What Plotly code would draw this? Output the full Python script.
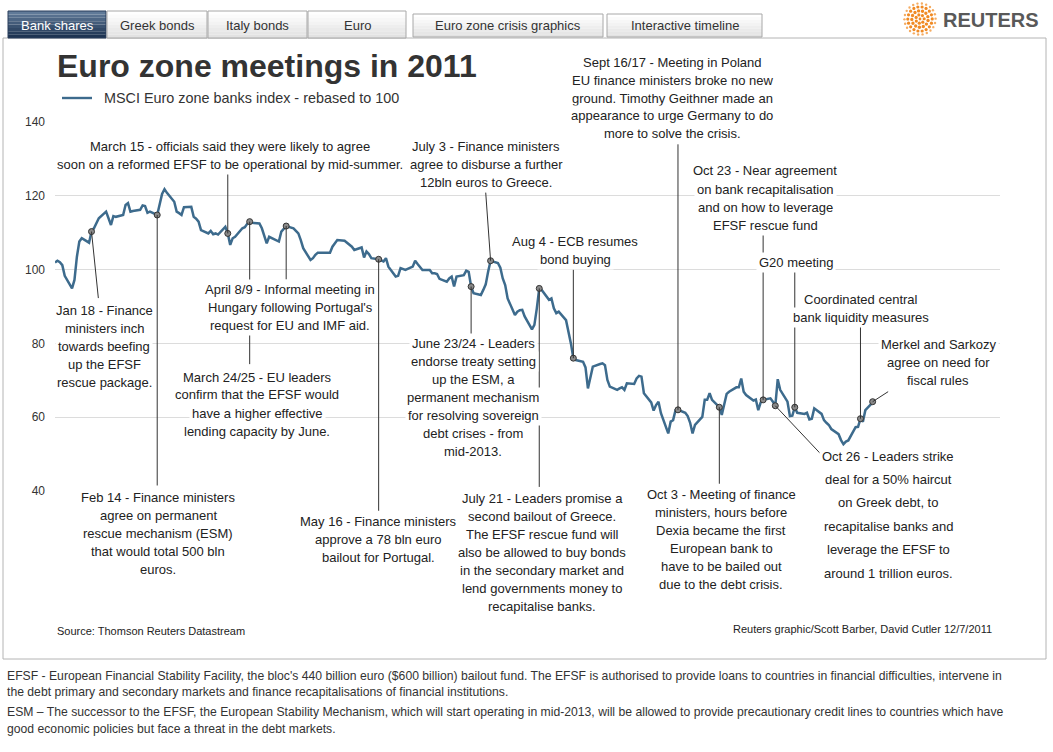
import math
import pandas as pd
import plotly.graph_objects as go

# ---------------- data (MSCI Euro zone banks index, rebased to 100) ----------------
jan_vals = [101.9, 102.4, 102.0, 101.2, 98.3, 94.9, 97.2, 103.5, 107.6, 108.5, 107.3,
            110.3, 111.2, 112.5, 113.9, 115.7, 113.9, 112.1, 114.5, 114.3, 114.8]
feb_vals = [117.5, 118.0, 115.7, 115.9, 116.2, 117.4, 117.2, 115.4, 115.7, 114.8,
            117.5, 120.5, 121.8, 120.8, 118.4, 115.7, 115.3, 114.8, 116.9, 117.0]
mar_vals = [114.3, 113.8, 113.0, 110.7, 109.8, 110.5, 109.6, 109.8, 109.5, 111.6, 109.8,
            106.7, 108.5, 108.9, 111.2, 111.5, 112.4, 113.0, 112.7, 112.5, 111.2, 109.4, 107.1]
apr_vals = [108.9, 108.0, 107.6, 110.3, 111.0, 111.8, 111.2, 110.5, 109.8, 108.0,
            105.8, 102.6, 103.1, 104.0, 104.6, 104.6, 104.6, 106.2, 107.0, 108.0]
may_vals = [107.8, 107.3, 106.8, 106.2, 105.3, 106.0, 103.3, 104.9, 104.2, 103.1, 102.8,
            102.5, 102.2, 103.1, 100.8, 98.1, 98.3, 100.4, 100.2, 99.9, 100.8, 102.4]
jun_vals = [101.5, 100.8, 99.9, 99.9, 99.0, 99.0, 98.8, 97.5, 96.7, 97.6, 98.1,
            95.4, 98.1, 98.5, 99.7, 99.4, 95.4, 93.6, 93.1, 94.5, 96.0, 99.5]
jul_vals = [102.4, 101.8, 100.5, 97.6, 95.8, 92.2, 87.7, 88.6, 89.0, 89.1, 87.3,
            83.8, 85.0, 89.5, 94.9, 94.5, 91.8, 92.2, 89.5, 88.2, 88.6]
aug_vals = [86.3, 83.2, 80.0, 76.0, 75.5, 75.0, 73.5, 67.8, 71.0, 73.7, 74.4, 74.6,
            74.1, 70.1, 68.3, 67.4, 67.8, 68.1, 67.4, 69.2, 69.0, 70.5, 71.2]
sep_vals = [71.0, 66.5, 64.0, 61.8, 63.3, 64.2, 61.1, 55.6, 58.8, 59.2, 61.9,
            62.0, 61.2, 60.3, 58.5, 55.6, 57.9, 60.1, 64.7, 64.7, 66.5, 64.7]
oct_vals = [62.7, 60.6, 63.3, 66.3, 66.9, 68.1, 68.1, 70.5, 66.9, 66.0, 64.5,
            64.8, 61.9, 64.0, 64.7, 65.1, 64.2, 63.1, 70.3, 67.4, 64.2]
nov_vals = [60.3, 60.4, 62.7, 61.2, 60.9, 61.2, 59.4, 59.6, 62.4, 60.9, 59.2,
            58.5, 57.9, 56.8, 55.4, 53.8, 52.7, 53.4, 53.7, 57.3, 57.4, 59.6]
dec_vals = [58.8, 61.9, 64.2, 64.7]

HOLIDAYS = ["2011-04-22"]
MONTH_SPANS = [("2011-01-01", "2011-01-31"), ("2011-02-01", "2011-02-28"),
               ("2011-03-01", "2011-03-31"), ("2011-04-01", "2011-04-30"),
               ("2011-05-01", "2011-05-31"), ("2011-06-01", "2011-06-30"),
               ("2011-07-01", "2011-07-31"), ("2011-08-01", "2011-08-31"),
               ("2011-09-01", "2011-09-30"), ("2011-10-01", "2011-10-31"),
               ("2011-11-01", "2011-11-30"), ("2011-12-01", "2011-12-06")]
MONTH_VALUES = [jan_vals, feb_vals, mar_vals, apr_vals, may_vals, jun_vals,
                jul_vals, aug_vals, sep_vals, oct_vals, nov_vals, dec_vals]

event_dates = ["2011-01-18", "2011-02-14", "2011-03-15", "2011-03-24", "2011-04-08",
               "2011-05-16", "2011-06-23", "2011-07-01", "2011-07-21", "2011-08-04",
               "2011-09-16", "2011-10-03", "2011-10-21", "2011-10-26", "2011-11-03",
               "2011-11-30", "2011-12-05"]

y_ticks = [40, 60, 80, 100, 120, 140]

TITLE = "Euro zone meetings in 2011"
LEGEND_TEXT = "MSCI Euro zone banks index - rebased to 100"
SOURCE = "Source: Thomson Reuters Datastream"
CREDIT = "Reuters graphic/Scott Barber, David Cutler 12/7/2011"
FOOTNOTES = [
    "EFSF - European Financial Stability Facility, the bloc's 440 billion euro ($600 billion) bailout fund. The EFSF is authorised to provide loans to countries in financial difficulties, intervene in",
    "the debt primary and secondary markets and finance recapitalisations of financial institutions.",
    "ESM \u2013 The successor to the EFSF, the European Stability Mechanism, which will start operating in mid-2013, will be allowed to provide precautionary credit lines to countries which have",
    "good economic policies but face a threat in the debt markets.",
]
TABS = ["Bank shares", "Greek bonds", "Italy bonds", "Euro"]
BUTTONS = ["Euro zone crisis graphics", "Interactive timeline"]

# event label texts
EVENT_TEXTS = {
    "jan18": ["Jan 18 - Finance", "ministers inch", "towards beefing", "up the EFSF", "rescue package."],
    "feb14": ["Feb 14 - Finance ministers", "agree on permanent", "rescue mechanism (ESM)",
              "that would total 500 bln", "euros."],
    "mar15": ["March 15 - officials said they were likely to agree",
              "soon on a reformed EFSF to be operational by mid-summer."],
    "mar24": ["March 24/25 - EU leaders", "confirm that the EFSF would",
              "have a higher effective", "lending capacity by June."],
    "apr8": ["April 8/9 - Informal meeting in", "Hungary following Portugal's",
             "request for EU and IMF aid."],
    "may16": ["May 16 - Finance ministers", "approve a 78 bln euro", "bailout for Portugal."],
    "jun23": ["June 23/24 - Leaders", "endorse treaty setting", "up the ESM, a",
              "permanent mechanism", "for resolving sovereign", "debt crises - from", "mid-2013."],
    "jul3": ["July 3 - Finance ministers", "agree to disburse a further", "12bln euros to Greece."],
    "jul21": ["July 21 - Leaders promise a", "second bailout of Greece.", "The EFSF rescue fund will",
              "also be allowed to buy bonds", "in the secondary market and",
              "lend governments money to", "recapitalise banks."],
    "aug4": ["Aug 4 - ECB resumes", "bond buying"],
    "sep16": ["Sept 16/17 - Meeting in Poland", "EU finance ministers broke no new",
              "ground. Timothy Geithner made an", "appearance to urge Germany to do",
              "more to solve the crisis."],
    "oct3": ["Oct 3 - Meeting of finance", "ministers, hours before", "Dexia became the first",
             "European bank to", "have to be bailed out", "due to the debt crisis."],
    "oct23": ["Oct 23 - Near agreement", "on bank recapitalisation", "and on how to leverage",
              "EFSF rescue fund"],
    "oct26": ["Oct 26 - Leaders strike", "deal for a 50% haircut", "on Greek debt, to",
              "recapitalise banks and", "leverage the EFSF to", "around 1 trillion euros."],
    "g20": ["G20 meeting"],
    "coord": ["Coordinated central", "bank liquidity measures"],
    "merkel": ["Merkel and Sarkozy", "agree on need for", "fiscal rules"],
}

# ---------------- build series ----------------
dates, values = [], []
for (s, e), vals in zip(MONTH_SPANS, MONTH_VALUES):
    d = pd.bdate_range(s, e, freq="C", holidays=HOLIDAYS)
    if len(d) != len(vals):
        raise ValueError(f"{s}: {len(d)} days vs {len(vals)} values")
    dates += [x.strftime("%Y-%m-%d") for x in d]
    values += vals
series = dict(zip(dates, values))
event_vals = [series[d] for d in event_dates]

# ---------------- layout helpers ----------------
FW, FH = 1053, 752
L, T, R, B = 55, 122, 1000, 491
PW, PH = R - L, B - T


def px(x):
    return (x - L) / PW


def py(y):
    return (B - y) / PH


FONT = "Arial, Liberation Sans, sans-serif"
LINE_COLOR = "#3d6b8d"
TXT = "#222222"

fig = go.Figure()
fig.add_trace(go.Scatter(x=dates, y=values, mode="lines",
                         line=dict(color=LINE_COLOR, width=2.5),
                         hoverinfo="skip", showlegend=False))
fig.add_trace(go.Scatter(x=event_dates, y=event_vals, mode="markers",
                         marker=dict(size=6, color="#8a8a8a", line=dict(color="#333333", width=1)),
                         hoverinfo="skip", showlegend=False))

shapes = []
annotations = []

# connector lines (tail offsets in pixels from the marked point)
arrow_offsets = [(7, 68), (0, 272), (0, -62), (0, 144), (0, 55), (0, 253), (0, 49),
                 (-5, -70), (0, 200), (0, -90), (0, -267), (0, 78), (0, -167),
                 (49, 52), (0, -137), (0, -94), (17, -11)]
for d, v, (ax, ay) in zip(event_dates, event_vals, arrow_offsets):
    annotations.append(dict(x=d, y=v, xref="x", yref="y", text="", showarrow=True,
                            arrowhead=0, arrowwidth=1, arrowcolor="#333333",
                            ax=ax, ay=ay, standoff=0, startstandoff=0))

# text blocks: (key, centre x px, first line centre y px, line spacing px)
text_pos = [("jul21", 542, 498, 18), ("may16", 378, 521, 18), ("jan18", 104, 310, 18),
            ("feb14", 158, 497, 18), ("mar15", 230, 146, 18), ("mar24", 257, 377, 18),
            ("apr8", 290, 289, 18), ("jun23", 473, 343, 18), ("jul3", 486, 146, 18),
            ("aug4", 575, 241, 18), ("sep16", 672, 62, 18), ("oct3", 721, 494, 18),
            ("oct23", 765, 171, 18), ("oct26", 888, 456, 23.4), ("g20", 796, 262, 18),
            ("coord", 861, 299, 18), ("merkel", 938, 344, 18)]
for key, cx, first, lh in text_pos:
    for i, line in enumerate(EVENT_TEXTS[key]):
        annotations.append(dict(x=px(cx), y=py(first + lh * i), xref="paper", yref="paper",
                                text=line, showarrow=False, xanchor="center", yanchor="middle",
                                font=dict(size=13, color=TXT, family=FONT),
                                bgcolor="white", borderpad=2))

# title & legend
annotations.append(dict(x=px(55), y=py(66), xref="paper", yref="paper", text=f"<b>{TITLE}</b>",
                        showarrow=False, xanchor="left", yanchor="middle",
                        font=dict(size=32, color="#333333", family=FONT)))
shapes.append(dict(type="line", xref="paper", yref="paper", x0=px(62), x1=px(92),
                   y0=py(98), y1=py(98), line=dict(color=LINE_COLOR, width=2.4)))
annotations.append(dict(x=px(102), y=py(98), xref="paper", yref="paper", text=LEGEND_TEXT,
                        showarrow=False, xanchor="left", yanchor="middle",
                        font=dict(size=14.4, color="#333333", family=FONT)))

# source / credit
annotations.append(dict(x=px(55), y=py(631), xref="paper", yref="paper", text=SOURCE,
                        showarrow=False, xanchor="left", yanchor="middle",
                        font=dict(size=11, color=TXT, family=FONT)))
annotations.append(dict(x=px(994), y=py(629), xref="paper", yref="paper", text=CREDIT,
                        showarrow=False, xanchor="right", yanchor="middle",
                        font=dict(size=11, color=TXT, family=FONT)))
for txt, yy in zip(FOOTNOTES, [676, 692, 712, 729]):
    annotations.append(dict(x=px(5), y=py(yy), xref="paper", yref="paper", text=txt,
                            showarrow=False, xanchor="left", yanchor="middle",
                            font=dict(size=12.2, color="#333333", family=FONT)))

# frame
shapes.append(dict(type="rect", xref="paper", yref="paper", x0=px(3), x1=px(1046),
                   y0=py(659), y1=py(38), line=dict(color="#b4b4b4", width=1),
                   fillcolor="rgba(0,0,0,0)", layer="below"))


def mix(c1, c2, t):
    return "#%02x%02x%02x" % tuple(int(round(a + (b - a) * t)) for a, b in zip(c1, c2))


def gradient_box(x0, x1, y0, y1, top, bottom, border, n=8):
    h = (y1 - y0) / n
    for k in range(n):
        shapes.append(dict(type="rect", xref="paper", yref="paper",
                           x0=px(x0), x1=px(x1), y0=py(y0 + h * (k + 1)), y1=py(y0 + h * k),
                           fillcolor=mix(top, bottom, k / (n - 1)), line=dict(width=0)))
    shapes.append(dict(type="rect", xref="paper", yref="paper", x0=px(x0), x1=px(x1),
                       y0=py(y1), y1=py(y0), line=dict(color=border, width=1),
                       fillcolor="rgba(0,0,0,0)"))


tab_x = [(8, 106), (107, 207), (208, 307), (308, 406)]
for i, (name, (x0, x1)) in enumerate(zip(TABS, tab_x)):
    if i == 0:
        gradient_box(x0, x1, 11, 38, (96, 122, 152), (30, 52, 82), "#2a3f5c")
        col = "white"
    else:
        gradient_box(x0, x1, 11, 38, (255, 255, 255), (226, 226, 226), "#a8a8a8")
        col = "#333333"
    annotations.append(dict(x=px((x0 + x1) / 2), y=py(25), xref="paper", yref="paper", text=name,
                            showarrow=False, xanchor="center", yanchor="middle",
                            font=dict(size=13, color=col, family=FONT)))
btn_x = [(413, 603), (607, 762)]
for name, (x0, x1) in zip(BUTTONS, btn_x):
    gradient_box(x0, x1, 14, 37, (255, 255, 255), (226, 226, 226), "#a8a8a8")
    annotations.append(dict(x=px((x0 + x1) / 2), y=py(25.5), xref="paper", yref="paper", text=name,
                            showarrow=False, xanchor="center", yanchor="middle",
                            font=dict(size=13, color="#333333", family=FONT)))

# Reuters logo
LCX, LCY = 920, 19
rings = [(0, 1, 1.4), (4.2, 7, 1.6), (8.2, 13, 1.7), (12.2, 18, 1.6), (15.6, 22, 1.2)]
for rad, cnt, dr in rings:
    for k in range(cnt):
        a = 2 * math.pi * k / cnt + rad * 0.2
        cx = LCX + rad * math.cos(a)
        cy = LCY + rad * math.sin(a)
        col = "#f08a24" if rad < 13 else "#f5ac62"
        shapes.append(dict(type="circle", xref="paper", yref="paper",
                           x0=px(cx - dr), x1=px(cx + dr), y0=py(cy + dr), y1=py(cy - dr),
                           fillcolor=col, line=dict(width=0)))
annotations.append(dict(x=px(941), y=py(20), xref="paper", yref="paper", text="<b>REUTERS</b>",
                        showarrow=False, xanchor="left", yanchor="middle",
                        font=dict(size=20, color="#595959", family=FONT)))

fig.update_layout(
    width=FW, height=FH,
    margin=dict(l=L, r=FW - R, t=T, b=FH - B, pad=0),
    paper_bgcolor="white", plot_bgcolor="white",
    showlegend=False,
    xaxis=dict(type="date", range=["2011-01-03", "2012-01-26 08:00"], visible=False,
               rangebreaks=[dict(bounds=["sat", "mon"]), dict(values=HOLIDAYS)],
               showgrid=False, zeroline=False),
    yaxis=dict(range=[40, 140], tickvals=y_ticks, showgrid=True, gridcolor="#dcdcdc",
               gridwidth=1, zeroline=False, showline=False, ticks="",
               tickfont=dict(size=12, color="#333333", family=FONT), ticklabelstandoff=9),
    shapes=shapes,
    annotations=annotations,
)

fig.write_html("out.html", config={"displayModeBar": False},
               post_script="document.body.style.margin='0';document.body.style.overflow='hidden';")
